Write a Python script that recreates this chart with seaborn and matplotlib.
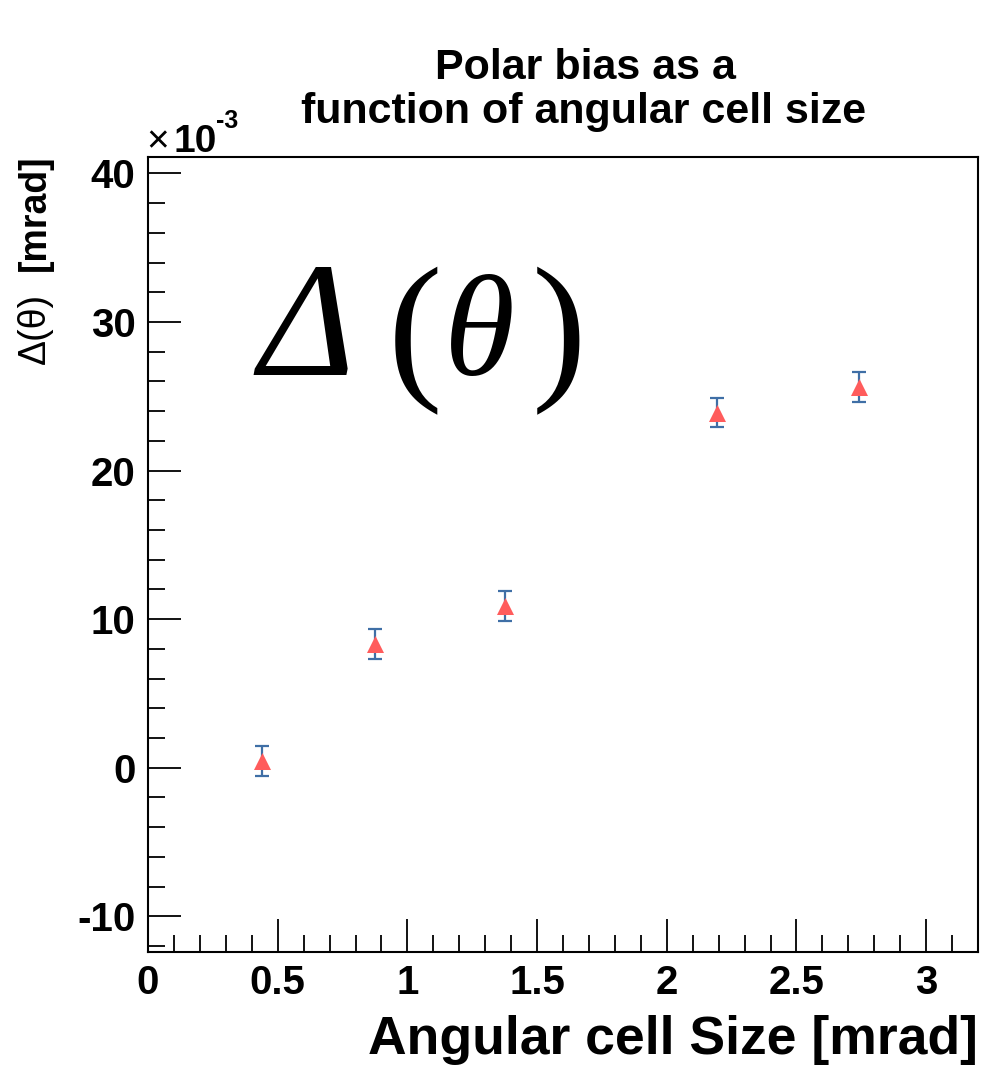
import numpy as np
import pandas as pd
import matplotlib
matplotlib.use("Agg")
import matplotlib.pyplot as plt
from matplotlib.ticker import MultipleLocator, FixedLocator
import seaborn as sns

# data (y in units of 1e-3 mrad)
cell_size = [0.44, 0.876, 1.375, 2.193, 2.741]
bias = [0.45, 8.35, 10.9, 23.9, 25.6]
bias_err = [1.0, 1.0, 1.0, 1.0, 1.0]
x_ticks = [0, 0.5, 1, 1.5, 2, 2.5, 3]
x_tick_labels = ["0", "0.5", "1", "1.5", "2", "2.5", "3"]
y_ticks = [-10, 0, 10, 20, 30, 40]
y_tick_labels = ["-10", "0", "10", "20", "30", "40"]

sns.set_style("ticks")
plt.rcParams['font.family'] = ['Liberation Sans', 'DejaVu Sans']
for k in ["text.color", "axes.labelcolor", "xtick.color", "ytick.color", "axes.edgecolor"]:
    plt.rcParams[k] = "black"

df = pd.DataFrame({"x": cell_size, "y": bias, "err": bias_err})

W, H = 981, 1065
fig = plt.figure(figsize=(W/100, H/100), dpi=100)
ax = fig.add_axes([148/W, 1 - 952/H, (978-148)/W, (952-157)/H])

def fx(px):
    return px / W

def fy(py):
    return 1 - py / H

ax.errorbar(df["x"], df["y"], yerr=df["err"], fmt="none", ecolor="#3f6fa6",
            elinewidth=1.6, capsize=5, capthick=1.6, zorder=2)
sns.scatterplot(data=df, x="x", y="y", marker="^", s=150, color="#ff5c5c",
                edgecolor="#ff5c5c", linewidth=0, ax=ax, zorder=3)

ax.set_xlim(0, 3.2)
ax.set_ylim(-12.4, 41.1)
ax.xaxis.set_major_locator(FixedLocator(x_ticks))
ax.set_xticklabels(x_tick_labels)
ax.xaxis.set_minor_locator(MultipleLocator(0.1))
ax.yaxis.set_major_locator(FixedLocator(y_ticks))
ax.set_yticklabels(y_tick_labels)
ax.yaxis.set_minor_locator(MultipleLocator(2))

ax.tick_params(axis="both", which="major", direction="in", length=24, width=1.3,
               labelsize=29, pad=9, top=False, right=False, colors="black")
ax.tick_params(axis="both", which="minor", direction="in", length=12, width=1.3,
               top=False, right=False, colors="black")
for lbl in ax.get_xticklabels() + ax.get_yticklabels():
    lbl.set_fontweight("bold")
for sp in ax.spines.values():
    sp.set_linewidth(1.5)
    sp.set_color("black")

ax.set_xlabel("")
ax.set_ylabel("")
fig.text(fx(978), fy(1040), "Angular cell Size [mrad]", ha="right", va="center",
         fontsize=38.5, fontweight="bold")
# y label
fig.text(fx(35), fy(213), "[mrad]", ha="center", va="center",
         rotation=90, fontsize=27, fontweight="bold")
fig.text(fx(35), fy(328), "Δ(θ)", ha="center", va="center",
         rotation=90, fontsize=27)
# title
fig.text(fx(585), fy(68), "Polar bias as a", ha="center", va="center",
         fontsize=31, fontweight="bold")
fig.text(fx(584), fy(112), "function of angular cell size", ha="center", va="center",
         fontsize=31, fontweight="bold")
# exponent
fig.text(fx(146), fy(152), "×", ha="left", va="baseline", fontsize=28)
fig.text(fx(173), fy(152), "10", ha="left", va="baseline", fontsize=28, fontweight="bold")
fig.text(fx(216), fy(128), "-3", ha="left", va="baseline", fontsize=18, fontweight="bold")

# big annotation
serif = ["Liberation Serif", "DejaVu Serif"]
base = fy(375)
fig.text(fx(258), base, "Δ", ha="left", va="baseline", fontsize=118,
         family=serif, style="italic")
fig.text(fx(388), fy(380), "(", ha="left", va="baseline", fontsize=118, family=serif)
fig.text(fx(444), base, "θ", ha="left", va="baseline", fontsize=104,
         family=serif, style="italic")
fig.text(fx(532), fy(380), ")", ha="left", va="baseline", fontsize=118, family=serif)

fig.savefig("out.png", dpi=100)
